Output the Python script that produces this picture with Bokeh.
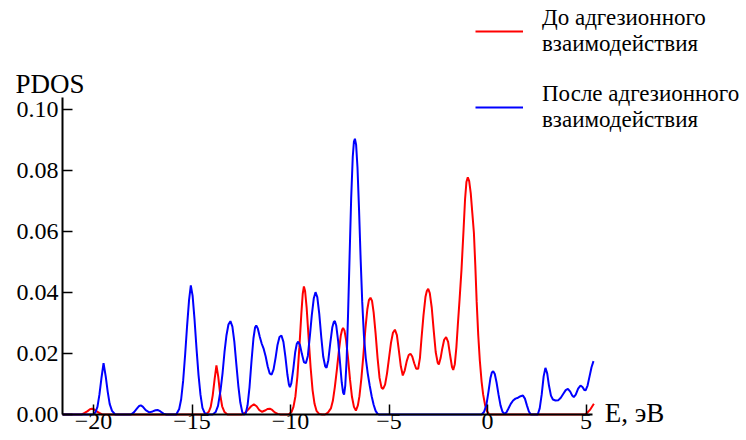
from bokeh.plotting import figure
from bokeh.models import FixedTicker, Label, Legend, LegendItem, Range1d
from bokeh.embed import file_html
from bokeh.resources import INLINE

# ---- data (energy in eV, PDOS) ----
e_red = [-21.57, -20.6, -20.45, -20.3, -20.18, -20.08, -19.98, -19.86, -19.71, -19.56,
         -14.3, -14.15, -14.05, -13.95, -13.85, -13.76, -13.67, -13.57, -13.47, -13.35, -13.2,
         -12.45, -12.3, -12.15, -12.0, -11.86, -11.72, -11.58, -11.44, -11.3, -11.17, -11.05,
         -10.93, -10.8, -10.65, -10.5,
         -10.1, -9.95, -9.85, -9.75, -9.65, -9.55, -9.45, -9.38, -9.32, -9.26, -9.18, -9.08,
         -8.98, -8.88, -8.78, -8.68, -8.55, -8.4,
         -8.25, -8.1, -7.95, -7.85, -7.75, -7.65, -7.55, -7.45, -7.38, -7.33, -7.26, -7.18,
         -7.08, -6.98, -6.88, -6.78, -6.68, -6.58,
         -6.5, -6.4, -6.3, -6.2, -6.1, -6.02, -5.94, -5.86, -5.78, -5.68, -5.58, -5.48, -5.38,
         -5.3, -5.2,
         -5.1, -5.0, -4.9, -4.8, -4.7, -4.6, -4.5, -4.4, -4.3, -4.2,
         -4.1, -4.0, -3.91, -3.82, -3.72, -3.62, -3.52, -3.43,
         -3.35, -3.25, -3.15, -3.08, -3.01, -2.93, -2.83, -2.73, -2.63, -2.53, -2.47, -2.38,
         -2.3, -2.2, -2.1, -2.0, -1.9, -1.8, -1.74, -1.66,
         -1.58, -1.5, -1.42, -1.32, -1.22, -1.14, -1.07, -1.0, -0.93, -0.85, -0.77, -0.69,
         -0.62, -0.55, -0.47, -0.39, -0.3, -0.22, -0.12, -0.02, 0.1,
         4.95, 5.05, 5.2, 5.4]
pdos_red = [0, 0, 0.0005, 0.0011, 0.0017, 0.0019, 0.0017, 0.0011, 0.0005, 0,
            0, 0.0009, 0.0025, 0.0062, 0.0117, 0.0161, 0.0125, 0.0066, 0.0027, 0.0008, 0,
            0, 0.0006, 0.0016, 0.0027, 0.0033, 0.0027, 0.0014, 0.0009, 0.0013, 0.0018, 0.0019,
            0.0015, 0.0007, 0.0002, 0,
            0, 0.0008, 0.0025, 0.006, 0.0125, 0.022, 0.033, 0.0395, 0.042, 0.0405, 0.035, 0.025,
            0.0155, 0.008, 0.0035, 0.0012, 0.0002, 0,
            0, 0.0006, 0.002, 0.0045, 0.009, 0.0145, 0.0205, 0.0258, 0.0278, 0.0284, 0.0275, 0.0245,
            0.0185, 0.0115, 0.0058, 0.0025, 0.0013, 0.003,
            0.006, 0.012, 0.0195, 0.028, 0.0345, 0.0375, 0.0383, 0.0372, 0.0335, 0.0265, 0.0185, 0.012, 0.0088,
            0.0084, 0.0098,
            0.0135, 0.0185, 0.0235, 0.0268, 0.0278, 0.026, 0.021, 0.0158, 0.0128, 0.0145,
            0.0175, 0.0195, 0.0199, 0.019, 0.0168, 0.015, 0.015, 0.0185,
            0.025, 0.0325, 0.0385, 0.0405, 0.0412, 0.0398, 0.035, 0.0275, 0.0205, 0.017, 0.0164, 0.0185,
            0.0215, 0.0245, 0.0254, 0.0238, 0.0195, 0.0155, 0.0146, 0.0165,
            0.022, 0.03, 0.0375, 0.0475, 0.06, 0.0705, 0.0762, 0.0778, 0.0765, 0.0725, 0.066, 0.0595,
            0.049, 0.037, 0.026, 0.0177, 0.0108, 0.0065, 0.003, 0.001, 0,
            0, 0.0005, 0.0015, 0.0035]

e_blue = [-21.57, -20.0, -19.9, -19.8, -19.7, -19.6, -19.49, -19.38, -19.28, -19.18, -19.06, -18.9,
          -18.1, -17.95, -17.8, -17.68, -17.6, -17.5, -17.35, -17.17, -17.0, -16.85, -16.75,
          -16.6, -16.45, -16.3,
          -15.8, -15.65, -15.55, -15.45, -15.35, -15.25, -15.15, -15.06, -14.97, -14.87, -14.77,
          -14.67, -14.57, -14.47, -14.35, -14.2,
          -13.95, -13.8, -13.68, -13.55, -13.45, -13.35, -13.25, -13.15, -13.05, -12.95, -12.85,
          -12.75, -12.65, -12.55, -12.45, -12.38,
          -12.28, -12.18, -12.08, -11.98, -11.88, -11.8, -11.74, -11.66, -11.56, -11.46, -11.36,
          -11.26, -11.16, -11.06, -10.96, -10.86, -10.76, -10.66, -10.56, -10.46, -10.36, -10.26,
          -10.16, -10.08, -10.03, -9.96, -9.86, -9.76, -9.68, -9.61, -9.52, -9.42, -9.32, -9.22,
          -9.12, -9.02, -8.92, -8.82, -8.73, -8.64, -8.54, -8.44, -8.34, -8.24, -8.17, -8.08,
          -7.98, -7.88, -7.8, -7.75, -7.68, -7.58, -7.48, -7.4, -7.33, -7.28, -7.22, -7.15,
          -7.08, -7.0, -6.92, -6.84, -6.78, -6.73, -6.67, -6.6, -6.52, -6.44, -6.36, -6.27,
          -6.18, -6.08, -5.98, -5.88, -5.78, -5.68, -5.58, -5.5,
          -0.3, -0.18, -0.06, 0.05, 0.15, 0.22, 0.29, 0.37, 0.46, 0.56, 0.66, 0.76, 0.86,
          0.95, 1.05, 1.18, 1.3, 1.42, 1.55, 1.68, 1.8, 1.9, 2.0, 2.1, 2.2,
          2.55, 2.65, 2.75, 2.85, 2.94, 3.03, 3.12, 3.22, 3.32, 3.45, 3.6, 3.72, 3.85, 3.97,
          4.08, 4.2, 4.3, 4.38, 4.48, 4.6, 4.72, 4.82, 4.92, 4.98, 5.08, 5.18, 5.28, 5.38]
pdos_blue = [0, 0, 0.0008, 0.0025, 0.0065, 0.0118, 0.0168, 0.0125, 0.0075, 0.0035, 0.0012, 0,
             0, 0.0007, 0.0019, 0.0028, 0.003, 0.0026, 0.0014, 0.0007, 0.001, 0.0014, 0.0015,
             0.001, 0.0003, 0,
             0, 0.0018, 0.005, 0.011, 0.0195, 0.029, 0.0375, 0.0423, 0.039, 0.031, 0.0215,
             0.013, 0.0065, 0.0022, 0.0004, 0,
             0, 0.0008, 0.0028, 0.008, 0.0135, 0.0205, 0.026, 0.0295, 0.0306, 0.0288, 0.0238,
             0.0165, 0.0095, 0.004, 0.0008, 0,
             0.0002, 0.003, 0.009, 0.0175, 0.025, 0.0285, 0.0292, 0.0282, 0.0255, 0.0232, 0.0215,
             0.019, 0.0158, 0.0135, 0.0131, 0.0148, 0.0185, 0.0228, 0.0254, 0.0259, 0.0238, 0.019,
             0.0132, 0.0098, 0.009, 0.0102, 0.0148, 0.0205, 0.0232, 0.0239, 0.0228, 0.0198, 0.0172, 0.0168,
             0.0192, 0.0255, 0.0325, 0.038, 0.0401, 0.0385, 0.033, 0.0255, 0.019, 0.0158, 0.0153, 0.0178,
             0.0235, 0.0285, 0.0304, 0.0306, 0.0292, 0.024, 0.0165, 0.0105, 0.0072, 0.0065, 0.0095, 0.018,
             0.0325, 0.052, 0.071, 0.0845, 0.0895, 0.0904, 0.0885, 0.081, 0.067, 0.051, 0.037, 0.0255,
             0.0185, 0.0135, 0.0095, 0.006, 0.0032, 0.0012, 0.0002, 0,
             0, 0.0008, 0.003, 0.0075, 0.012, 0.0138, 0.0142, 0.0133, 0.0105, 0.0065, 0.003, 0.0009, 0.0002,
             0.0006, 0.0018, 0.0035, 0.0046, 0.0052, 0.0055, 0.006, 0.0062, 0.0052, 0.003, 0.001, 0,
             0, 0.002, 0.0065, 0.0125, 0.0153, 0.0135, 0.0095, 0.0062, 0.0049, 0.0046, 0.0047, 0.0055, 0.0068, 0.008,
             0.0084, 0.0075, 0.0062, 0.0057, 0.0065, 0.0085, 0.0095, 0.009, 0.008, 0.0079, 0.0095, 0.0125, 0.0155, 0.0175]

x_ticks = [-20, -15, -10, -5, 0, 5]
x_tick_labels = ["\u221220", "\u221215", "\u221210", "\u22125", "0", "5"]
y_ticks = [0.0, 0.02, 0.04, 0.06, 0.08, 0.10]
y_tick_labels = ["0.00", "0.02", "0.04", "0.06", "0.08", "0.10"]
x_axis_extent = (-21.57, 5.33)
y_axis_extent = (0.0, 0.104)

series_labels = ["До адгезионного\nвзаимодействия", "После адгезионного\nвзаимодействия"]
series_colors = ["#ff0000", "#0000ff"]
x_title = "E, эВ"
y_title = "PDOS"

FONT = "'Liberation Serif', 'Times New Roman', serif"

# the frame covers the whole canvas; axes are pinned inside it (fixed_location + bounds)
p = figure(width=746, height=440, output_backend="svg", toolbar_location=None,
           x_range=Range1d(-24.721, 13.147), y_range=Range1d(-0.008525, 0.135738),
           min_border_left=0, min_border_right=0, min_border_top=0, min_border_bottom=0)
p.outline_line_color = None
p.grid.visible = False
p.background_fill_color = "white"
p.border_fill_color = "white"

r_red = p.line(e_red, pdos_red, line_color=series_colors[0], line_width=2)
r_blue = p.line(e_blue, pdos_blue, line_color=series_colors[1], line_width=2)

xa = p.xaxis[0]
ya = p.yaxis[0]
xa.fixed_location = 0.0
ya.fixed_location = x_axis_extent[0]
xa.bounds = x_axis_extent
ya.bounds = y_axis_extent
xa.ticker = FixedTicker(ticks=x_ticks)
xa.major_label_overrides = dict(zip(x_ticks, x_tick_labels))
ya.ticker = FixedTicker(ticks=y_ticks)
ya.major_label_overrides = dict(zip(y_ticks, y_tick_labels))

for ax in (xa, ya):
    ax.axis_line_width = 2
    ax.axis_line_color = "black"
    ax.major_tick_in = 10
    ax.major_tick_out = 0
    ax.major_tick_line_width = 1.5
    ax.major_tick_line_color = "black"
    ax.minor_tick_line_color = None
    ax.major_label_text_font = FONT
    ax.major_label_text_font_size = "24px"
    ax.major_label_text_color = "black"
xa.major_label_standoff = 0
ya.major_label_standoff = 4

p.add_layout(Label(x=-23.96, y=0.1084, text=y_title, text_font=FONT,
                   text_font_size="27px", text_baseline="middle", text_align="left",
                   text_color="black"))
p.add_layout(Label(x=5.95, y=0.0005, text=x_title, text_font=FONT,
                   text_font_size="27px", text_baseline="middle", text_align="left",
                   text_color="black"))

legend = Legend(items=[LegendItem(label=series_labels[0], renderers=[r_red]),
                       LegendItem(label=series_labels[1], renderers=[r_blue])],
                location=(475, 307), orientation="vertical",
                glyph_width=48, glyph_height=20, label_standoff=19,
                spacing=24, padding=0, margin=0,
                label_text_font=FONT, label_text_font_size="23px",
                label_text_color="black", label_text_line_height=0.96,
                border_line_alpha=0, background_fill_alpha=0)
p.add_layout(legend)

open("out.html", "w").write(file_html(p, INLINE))
